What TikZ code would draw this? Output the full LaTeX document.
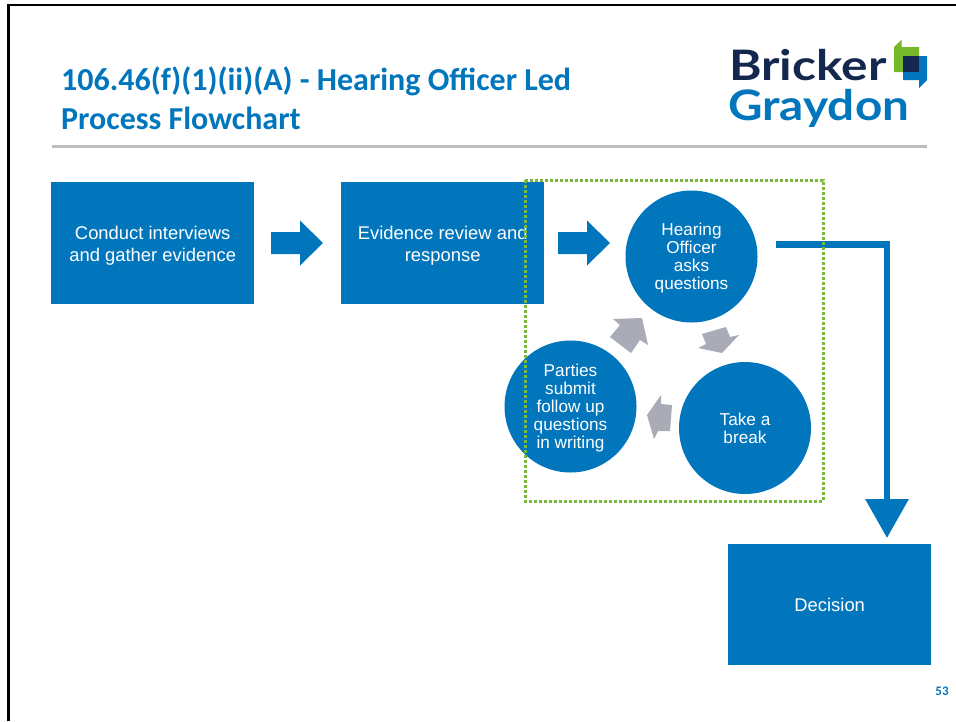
\documentclass[tikz,border=0pt]{standalone}
\usepackage{fontspec}
\setmainfont{Liberation Sans}
\newfontfamily\titlefont{Carlito}
\newfontfamily\logofont{Lato}
\usetikzlibrary{arrows.meta}
\definecolor{bgblue}{HTML}{0276BC}
\definecolor{logonavy}{HTML}{14284F}
\definecolor{logogreen}{HTML}{76B82A}
\definecolor{arrowgray}{HTML}{A9ABB6}
\definecolor{rulegray}{HTML}{BDBDBD}
\definecolor{dotgreen}{HTML}{7AB93C}
\tikzset{
  x=1pt,y=-1pt,
  bluebox/.style={fill=bgblue,text=white,align=center,font=\fontsize{18.4}{22}\selectfont,inner sep=0pt,anchor=north west},
  bluecircle/.style={circle,fill=bgblue,text=white,align=center,minimum size=132pt,inner sep=0pt,font=\fontsize{17.2}{18}\selectfont},
  blockarrow/.style={fill=bgblue},
  grayarrow/.style={fill=arrowgray},
  titletext/.style={font=\titlefont\bfseries\fontsize{32}{39}\selectfont,text=bgblue,align=left,anchor=north west,inner sep=0pt},
  logotext/.style={font=\logofont\bfseries\fontsize{42}{42}\selectfont,inner sep=0pt,anchor=base west},
}
\begin{document}
\begin{tikzpicture}
\useasboundingbox (0,0) rectangle (956,721);
\fill[white] (0,0) rectangle (956,721);
% slide frame
\draw[black,line width=2.5pt] (8.7,721) -- (8.7,5) -- (956,5);
% title
\node[titletext] (title) at (61,67) {106.46(f)(1)(ii)(A) - Hearing Officer Led\\Process Flowchart};
\draw[rulegray,line width=3pt] (52,146.5) -- (927,146.5);
% logo
\node[logotext,text=logonavy] (bricker) at (729,80) {\scalebox{1.18}[1]{Bricker}};
\node[logotext,text=bgblue] (graydon) at (728,120) {\scalebox{1.135}[1]{Graydon}};
\fill[logogreen] (894,47) -- (901.5,40) -- (901.5,47) -- (919,47) -- (919,72) -- (894,72) -- cycle;
\fill[bgblue] (903,56) -- (927,56) -- (927,80) -- (919,88) -- (919,80) -- (903,80) -- cycle;
\fill[logonavy] (903,56) rectangle (919,72);
% boxes
\node[bluebox,minimum width=203pt,minimum height=122pt] (interviews) at (51,182) {\rule{0pt}{17.5pt}Conduct interviews\\and gather evidence};
\node[bluebox,minimum width=203pt,minimum height=122pt] (review) at (341,182) {\rule{0pt}{17.5pt}Evidence review and\\response};
\node[bluebox,minimum width=203pt,minimum height=121pt] (decision) at (728,544) {Decision};
% circles
\node[bluecircle] (hearing) at (691.5,256.5) {\rule{0pt}{16.5pt}Hearing\\Officer\\asks\\questions};
\node[bluecircle] (break) at (745,428) {\rule{0pt}{13pt}Take a\\break};
\node[bluecircle] (parties) at (570.5,406.5) {\rule{0pt}{16.5pt}Parties\\submit\\follow up\\questions\\in writing};
% block arrows
\fill[blockarrow] (271,232) -- (300,232) -- (300,220.5) -- (323,243) -- (300,265.5) -- (300,254) -- (271,254) -- cycle;
\fill[blockarrow] (558,232) -- (587,232) -- (587,220.5) -- (610,243) -- (587,265.5) -- (587,254) -- (558,254) -- cycle;
% bent arrow
\coordinate (bendstart) at (776,244.5);
\coordinate (bendend) at (887,538);
\draw[bgblue,line width=6.5pt,-{Triangle[length=39pt,width=42pt]}] (bendstart) -| (bendend);
% cycle arrows
\fill[grayarrow] (613,319) -- (642,318) -- (648,345) -- (640,340) -- (631,353) -- (610,337) -- (620,325) -- cycle;
\fill[grayarrow] (702,334) -- (726,327) -- (730,337) -- (739,335) -- (722,353) -- (698,348) -- (706,344) -- cycle;
\fill[grayarrow] (661,395) -- (661,404) -- (672,405) -- (670,431) -- (658,431) -- (654,439) -- (647,415) -- cycle;
% dotted selection
\draw[dotgreen,line width=3pt,dash pattern=on 2.6pt off 2.4pt] (525,180) rectangle (823,501);
\node[font=\titlefont\bfseries\fontsize{13}{14}\selectfont,text=bgblue,inner sep=0pt] (page) at (942,691) {53};
\end{tikzpicture}
\end{document}
